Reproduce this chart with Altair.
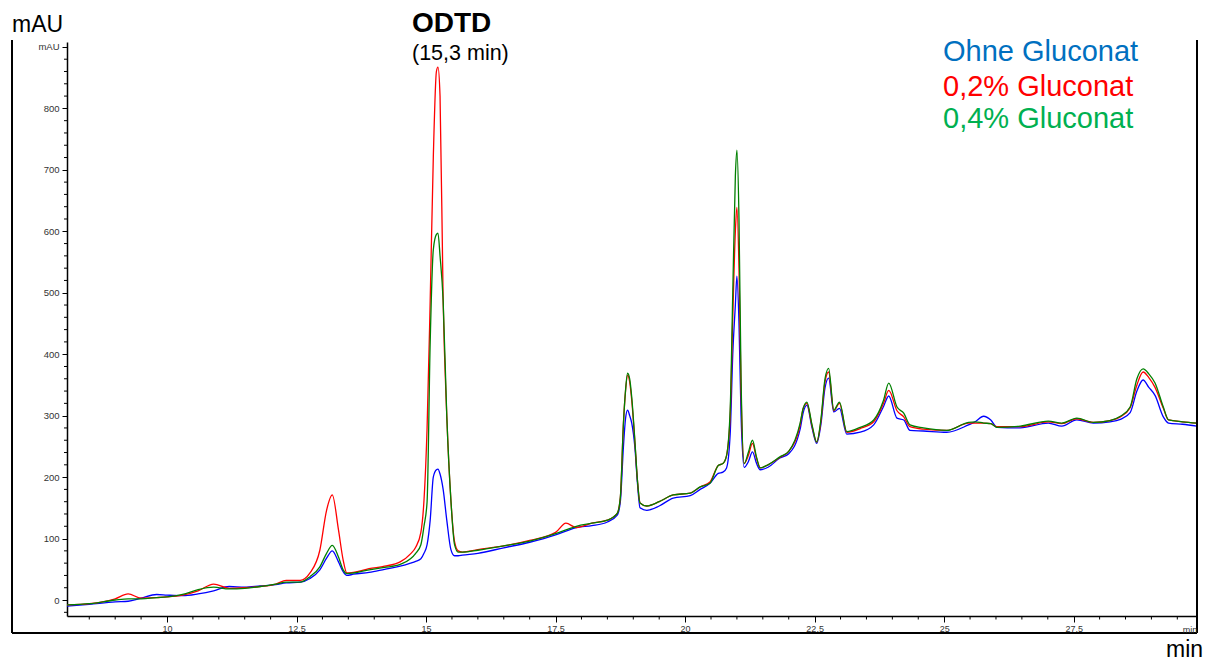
import altair as alt
import pandas as pd

# Retention time grid (min) shared by the three traces
time_min = [
    8.07, 8.5, 9.0, 9.25, 9.5, 9.8, 10.0, 10.3, 10.6, 10.9,
    11.2, 11.5, 11.8, 12.1, 12.3, 12.57, 12.76, 12.95, 13.08, 13.19,
    13.31, 13.40, 13.47, 13.6, 13.9, 14.2, 14.5, 14.7, 14.8, 14.9,
    14.96, 15.02, 15.08, 15.14, 15.2, 15.23, 15.27, 15.33, 15.4, 15.48,
    15.55, 15.62, 15.7, 16.0, 16.5, 17.0, 17.5, 17.7, 17.9, 18.2,
    18.5, 18.69, 18.75, 18.81, 18.85, 18.89, 18.93, 18.97, 19.03, 19.08,
    19.13, 19.26, 19.5, 19.77, 20.1, 20.29, 20.48, 20.64, 20.73, 20.80,
    20.87, 20.92, 20.97, 21.0, 21.04, 21.08, 21.14, 21.22, 21.30, 21.38,
    21.45, 21.6, 21.83, 22.0, 22.22, 22.28, 22.35, 22.45, 22.54, 22.62,
    22.70, 22.77, 22.87, 22.98, 23.12, 23.38, 23.64, 23.83, 23.93, 24.09,
    24.22, 24.34, 24.6, 25.05, 25.47, 25.6, 25.76, 25.9, 26.02, 26.47,
    27.01, 27.27, 27.56, 27.88, 28.2, 28.40, 28.59, 28.72, 28.84, 28.95,
    29.07, 29.23, 29.33, 29.6, 29.88,
]

# Absorbance (mAU) without gluconate
ohne_gluconat = [
    -10, -7, -3, -2, 3, 9, 8, 7, 10, 15,
    22, 21, 23, 25, 28, 29, 35, 49, 68, 80,
    62, 46, 40, 42, 45, 50, 55, 60, 63, 67,
    76, 90, 130, 200, 212, 213, 205, 180, 130, 82,
    72, 72, 73, 76, 85, 94, 106, 112, 118, 121,
    127, 138, 160, 250, 295, 309, 300, 288, 249, 190,
    150, 146, 153, 166, 170, 180, 190, 206, 208, 215,
    270, 400, 480, 527, 450, 300, 216, 225, 241, 222,
    212, 216, 231, 238, 278, 305, 317, 280, 255, 285,
    345, 361, 306, 312, 270, 273, 285, 315, 332, 296,
    293, 276, 275, 273, 285, 290, 299, 293, 281, 280,
    288, 283, 293, 288, 290, 294, 305, 340, 358, 346,
    333, 298, 288, 286, 283,
]

# Absorbance (mAU) with 0.2 % gluconate
gluconat_02 = [
    -8, -6, 2, 10, 3, 4, 5, 8, 15, 26,
    19, 20, 22, 26, 32, 32, 44, 81, 146, 171,
    114, 65, 44, 45, 51, 55, 62, 75, 86, 110,
    162, 280, 487, 720, 860, 867, 820, 487, 300, 162,
    95, 80, 78, 82, 88, 97, 110, 125, 118, 125,
    130, 141, 167, 288, 340, 366, 355, 325, 258, 195,
    158, 153, 160, 171, 174, 184, 192, 219, 222, 235,
    300, 460, 600, 639, 540, 340, 222, 235, 255, 230,
    215, 220, 232, 242, 285, 312, 320, 283, 257, 290,
    355, 371, 308, 320, 273, 279, 290, 320, 341, 308,
    298, 282, 278, 276, 288, 288, 288, 287, 282, 282,
    290, 287, 295, 289, 292, 298, 313, 350, 371, 362,
    346, 312, 293, 290, 288,
]

# Absorbance (mAU) with 0.4 % gluconate
gluconat_04 = [
    -8, -6, 0, 2, 2, 4, 5, 9, 17, 21,
    18, 19, 22, 26, 29, 29, 38, 54, 76, 89,
    70, 49, 43, 44, 49, 53, 58, 67, 76, 90,
    120, 160, 420, 570, 595, 597, 560, 487, 300, 162,
    90, 78, 78, 81, 88, 96, 108, 114, 120, 125,
    130, 141, 167, 288, 341, 369, 360, 330, 260, 195,
    158, 153, 160, 171, 174, 184, 190, 219, 222, 235,
    310, 500, 690, 732, 620, 360, 222, 240, 260, 232,
    215, 220, 233, 242, 288, 312, 322, 285, 257, 293,
    360, 377, 309, 322, 274, 281, 293, 325, 353, 314,
    304, 285, 280, 276, 289, 290, 288, 287, 281, 283,
    291, 288, 296, 289, 292, 299, 314, 360, 376, 368,
    353, 314, 293, 290, 288,
]

series_names = ["Ohne Gluconat", "0,2% Gluconat", "0,4% Gluconat"]
trace_colors = ["#0000FF", "#FF0000", "#008000"]
legend_colors = ["#0070C0", "#FF0000", "#00B050"]

x_major = [10, 12.5, 15, 17.5, 20, 22.5, 25, 27.5]
x_minor = [v / 2 for v in range(17, 60) if v % 5 != 0]
y_major = [0, 100, 200, 300, 400, 500, 600, 700, 800, 900]
y_minor = [v for v in range(-20, 901, 20) if v % 100 != 0]

FONT = "Liberation Sans"
W, H = 1130, 574

x_scale = alt.Scale(domain=[8.07, 29.88], nice=False, zero=False)
y_scale = alt.Scale(domain=[-26, 908], nice=False, zero=False)

x_axis = alt.Axis(
    values=x_major, labelExpr="'' + datum.value", grid=False, title=None,
    tickSize=6, tickColor="black", tickWidth=1,
    domainColor="black", domainWidth=1.5,
    labelFont=FONT, labelFontSize=9, labelColor="#333333", labelPadding=2,
)
y_axis = alt.Axis(
    values=y_major, grid=False, title=None,
    labelExpr="datum.value == 900 ? 'mAU' : '' + datum.value",
    tickSize=5, tickColor="black", tickWidth=1,
    domainColor="black", domainWidth=1.5,
    labelFont=FONT, labelFontSize=9.5, labelColor="#333333", labelPadding=3,
)


def trace(values, color):
    df = pd.DataFrame({"t": time_min, "mAU": values})
    return alt.Chart(df).mark_line(
        color=color, strokeWidth=1.3, interpolate="monotone"
    ).encode(
        x=alt.X("t:Q", scale=x_scale, axis=x_axis),
        y=alt.Y("mAU:Q", scale=y_scale, axis=y_axis),
    )


traces = [
    trace(ohne_gluconat, trace_colors[0]),
    trace(gluconat_02, trace_colors[1]),
    trace(gluconat_04, trace_colors[2]),
]

# Minor tick marks on both axes
x_minor_ticks = alt.Chart(pd.DataFrame({"t": x_minor})).mark_rule(
    color="black", strokeWidth=1
).encode(
    x=alt.X("t:Q", scale=x_scale, axis=x_axis),
    y=alt.value(H), y2=alt.value(H + 3.5),
)
y_minor_ticks = alt.Chart(pd.DataFrame({"v": y_minor})).mark_rule(
    color="black", strokeWidth=1
).encode(
    y=alt.Y("v:Q", scale=y_scale, axis=y_axis),
    x=alt.value(-3), x2=alt.value(0),
)

one = pd.DataFrame({"k": [0]})


def frame_line(x, x2, y, y2):
    return alt.Chart(one).mark_rule(color="black", strokeWidth=2).encode(
        x=alt.value(x), x2=alt.value(x2), y=alt.value(y), y2=alt.value(y2)
    )


frame = [
    frame_line(-55, -55, -2, 591),
    frame_line(-55, W, 591, 591),
    frame_line(W, W, -2, 591),
]


def label(text, x, y, size, color="black", bold=False, align="left"):
    return alt.Chart(pd.DataFrame({"txt": [text]})).mark_text(
        font=FONT, fontSize=size, color=color, align=align,
        baseline="alphabetic", fontWeight="bold" if bold else "normal",
    ).encode(text="txt:N", x=alt.value(x), y=alt.value(y))


texts = [
    label("mAU", -55, -10, 23),
    label("min", 1099, 615, 23),
    label("min", 1123, 591, 9, color="#333333", align="center"),
    label("ODTD", 345, -10, 28, bold=True),
    label("(15,3 min)", 345, 18, 21.5),
]
legend = [
    label(name, 876, yy, 29, color=c)
    for name, c, yy in zip(series_names, legend_colors, [19, 54, 86])
]

chart = alt.layer(
    *traces, x_minor_ticks, y_minor_ticks, *frame, *texts, *legend
).properties(
    width=W, height=H,
    autosize=alt.AutoSizeParams(type="none"),
    padding={"left": 67, "top": 42, "right": 21, "bottom": 47},
).configure_view(strokeWidth=0)

chart.save("out.html", embed_options={"renderer": "svg", "actions": False})
